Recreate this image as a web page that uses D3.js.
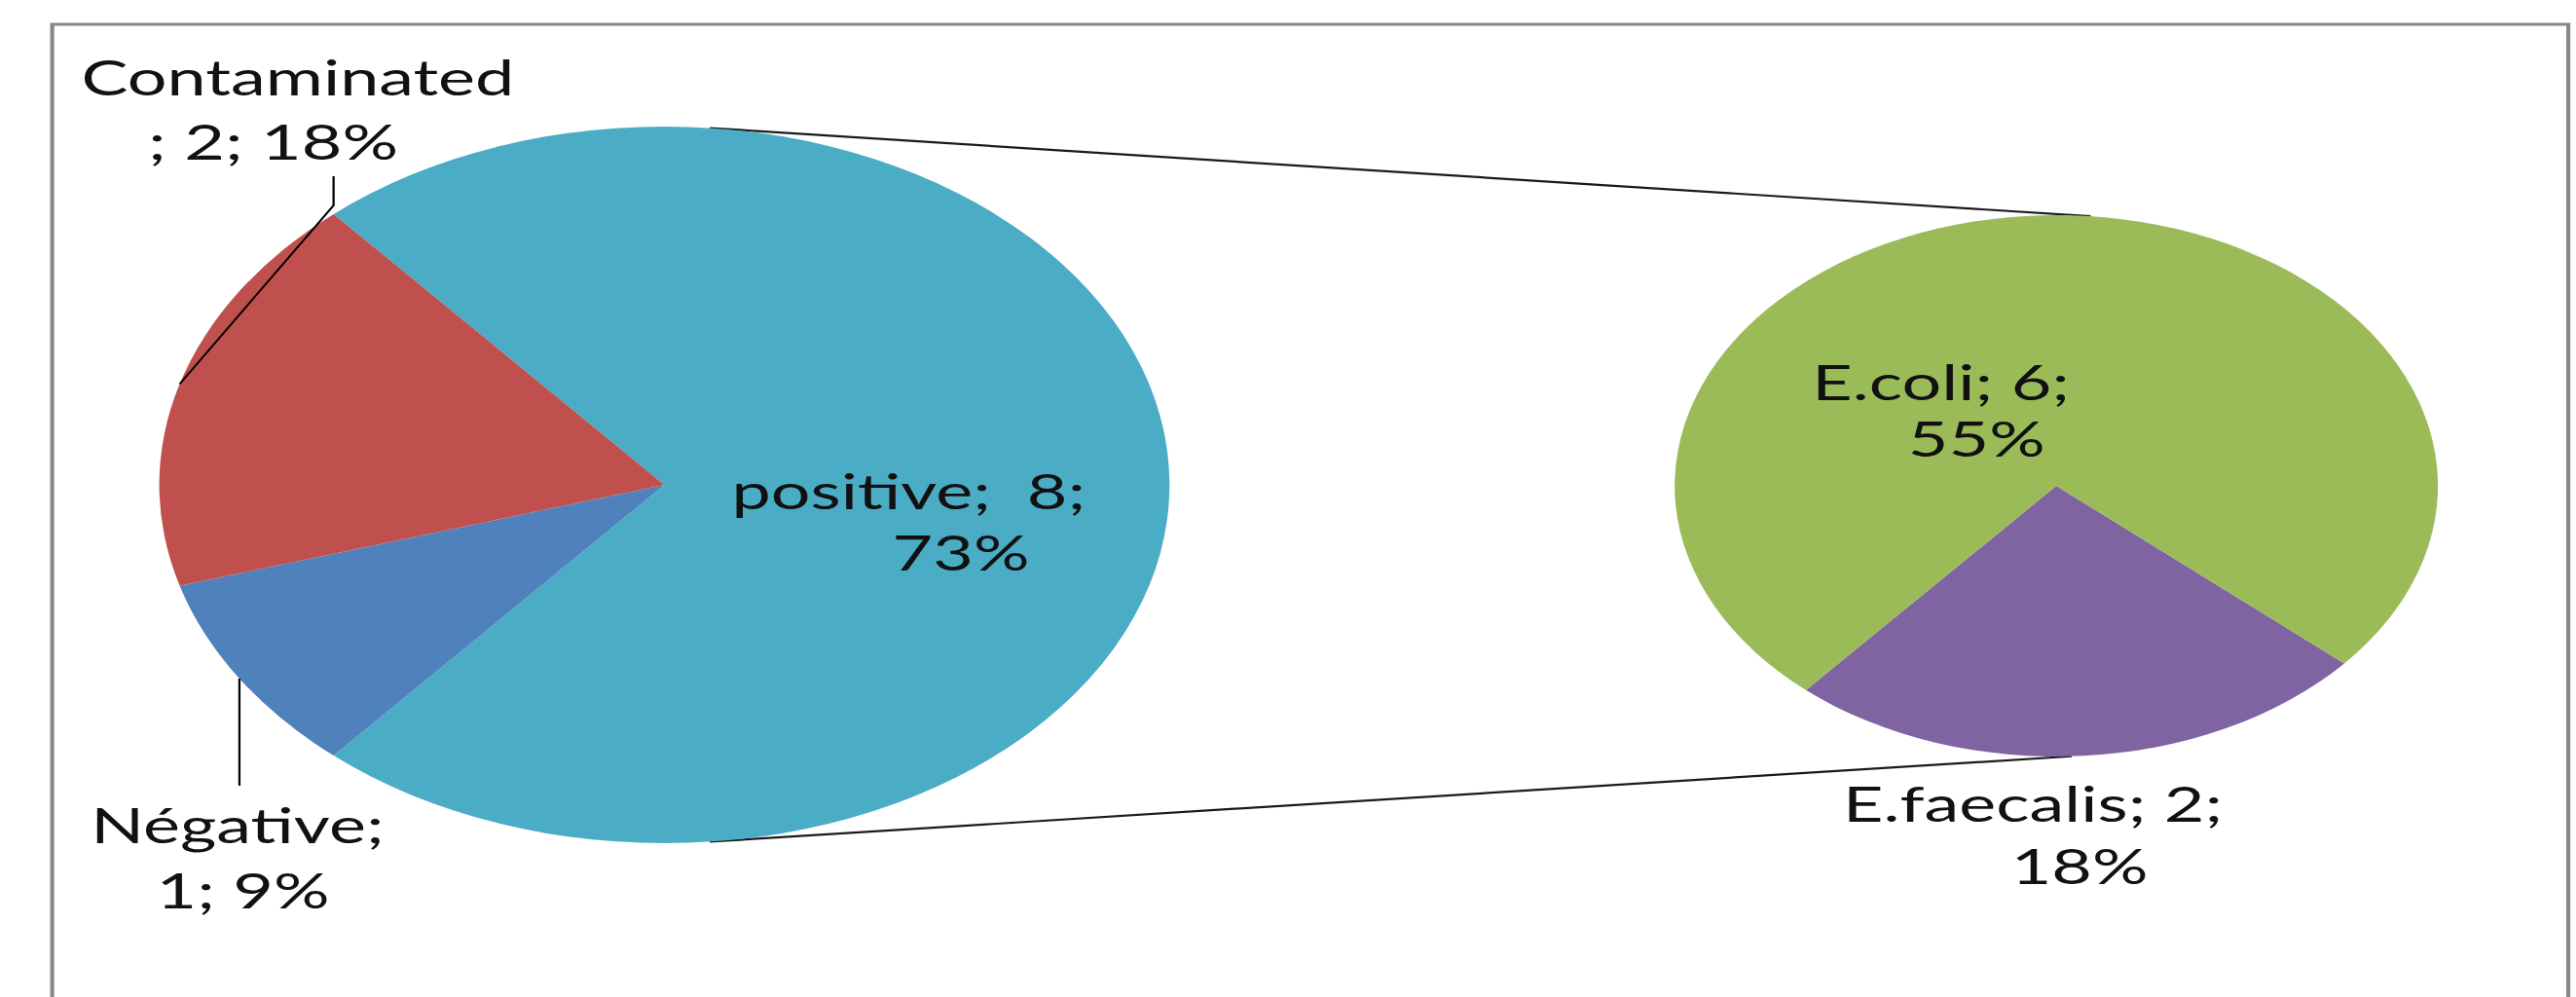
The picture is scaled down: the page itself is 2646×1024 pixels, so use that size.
<!DOCTYPE html>
<html>
<head>
<meta charset="utf-8">
<script src="https://cdn.jsdelivr.net/npm/d3@7"></script>
<style>
html, body { margin: 0; background: #fff; }
svg { display: block; }
text { font-family: Lato, "Open Sans", sans-serif; fill: #111; white-space: pre; }
</style>
</head>
<body>
<svg id="chart"></svg>
<script>
// Main pie: the "positive" slice is split out into the second pie.
var mainCategories = ["positive", "Négative", "Contaminated"];
var mainValues = [8, 1, 2];
var mainColors = ["#4BACC6", "#4F81BD", "#C0504D"];

// Second pie: what the positives were.
var subCategories = ["E.faecalis", "E.coli"];
var subValues = [2, 6];
var subColors = ["#8064A2", "#9BBB59"];

// The picture is a square-pixel chart stretched sideways, so draw it in
// narrow coordinates and let the viewBox do the stretch.
var W = 2646, H = 1024;
var stretch = 1.41;
var innerW = W / stretch;

var svg = d3.select("#chart")
    .attr("width", W)
    .attr("height", H)
    .attr("viewBox", "0 0 " + innerW + " " + H)
    .attr("preserveAspectRatio", "none");

var total = d3.sum(mainValues);
function pct(v) { return Math.round(100 * v / total) + "%"; }

var main = { cx: 484, cy: 498, r: 368 };
var sub = { cx: 1498, cy: 499, r: 278 };

// chart area frame (bottom edge runs off the picture)
svg.append("rect")
    .attr("x", 38).attr("y", 25)
    .attr("width", 1833).attr("height", 1100)
    .attr("fill", "none")
    .attr("stroke", "#888")
    .attr("stroke-width", 3);

// d3 angles: 0 at twelve o'clock, clockwise. Split slice is centred on the right.
var mainStart = Math.PI / 2 - Math.PI * mainValues[0] / total;
var mainPie = d3.pie().sort(null)
    .startAngle(mainStart).endAngle(mainStart + 2 * Math.PI)(mainValues);

var subShare = subValues[0] / d3.sum(subValues);
var subStart = Math.PI * 176 / 180 - Math.PI * subShare;
var subPie = d3.pie().sort(null)
    .startAngle(subStart).endAngle(subStart + 2 * Math.PI)(subValues);

function onRim(p, a) {
    return [p.cx + p.r * Math.sin(a), p.cy - p.r * Math.cos(a)];
}

// connector lines between the two pies
var links = [[0.09, 0.09], [Math.PI - 0.09, Math.PI - 0.04]];
svg.selectAll(".link").data(links).enter().append("line")
    .attr("class", "link")
    .attr("x1", function (d) { return onRim(main, d[0])[0]; })
    .attr("y1", function (d) { return onRim(main, d[0])[1]; })
    .attr("x2", function (d) { return onRim(sub, d[1])[0]; })
    .attr("y2", function (d) { return onRim(sub, d[1])[1]; })
    .attr("stroke", "#1a1a1a")
    .attr("stroke-width", 2.2);

svg.append("g")
    .attr("transform", "translate(" + main.cx + "," + main.cy + ")")
    .selectAll("path").data(mainPie).enter().append("path")
    .attr("d", d3.arc().innerRadius(0).outerRadius(main.r))
    .attr("fill", function (d, i) { return mainColors[i]; });

svg.append("g")
    .attr("transform", "translate(" + sub.cx + "," + sub.cy + ")")
    .selectAll("path").data(subPie).enter().append("path")
    .attr("d", d3.arc().innerRadius(0).outerRadius(sub.r))
    .attr("fill", function (d, i) { return subColors[i]; });

// leader lines from slice rim midpoints
function mid(d) { return (d.startAngle + d.endAngle) / 2; }
var negRim = onRim(main, mid(mainPie[1]));
var conRim = onRim(main, mid(mainPie[2]));
var leaders = [
    [negRim, [negRim[0], 807]],
    [conRim, [243, 211], [243, 181]]
];
svg.selectAll(".leader").data(leaders).enter().append("path")
    .attr("class", "leader")
    .attr("d", d3.line())
    .attr("fill", "none")
    .attr("stroke", "#000")
    .attr("stroke-width", 1.6);

// data labels, two lines each: [x, baseline] per line
var labels = [
    { lines: [mainCategories[0] + ";  " + mainValues[0] + ";", pct(mainValues[0])],
      pos: [[662, 523], [700, 586]] },
    { lines: [mainCategories[1] + ";", mainValues[1] + "; " + pct(mainValues[1])],
      pos: [[173, 866], [177, 933]] },
    { lines: [mainCategories[2], "; " + mainValues[2] + "; " + pct(mainValues[2])],
      pos: [[217, 98], [199, 164]] },
    { lines: [subCategories[1] + "; " + subValues[1] + ";", pct(subValues[1])],
      pos: [[1414, 411], [1440, 469]] },
    { lines: [subCategories[0] + "; " + subValues[0] + ";", pct(subValues[0])],
      pos: [[1481, 844], [1515, 908]] }
];

labels.forEach(function (lab) {
    lab.lines.forEach(function (s, i) {
        svg.append("text")
            .attr("x", lab.pos[i][0])
            .attr("y", lab.pos[i][1])
            .attr("text-anchor", "middle")
            .attr("font-size", 51)
            .text(s);
    });
});
</script>
</body>
</html>
